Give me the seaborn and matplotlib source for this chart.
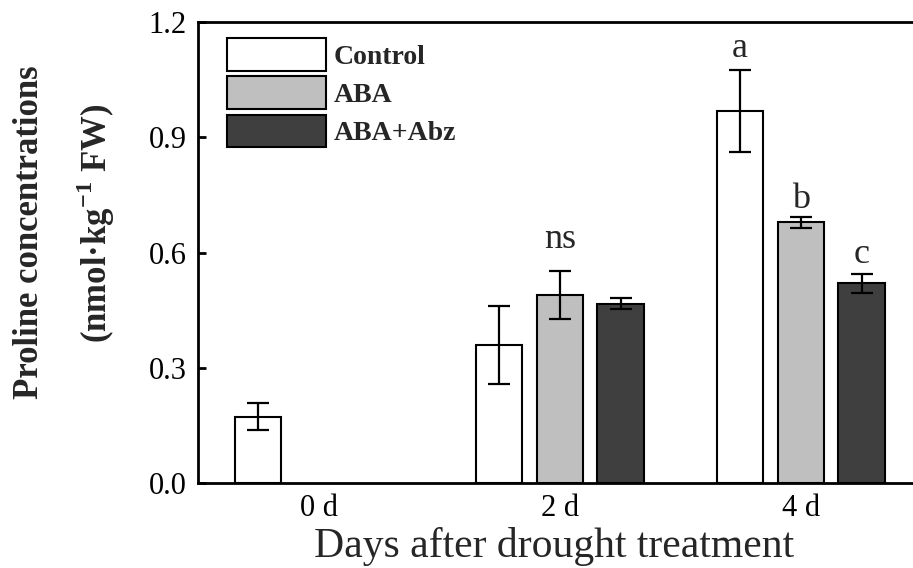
import numpy as np
import pandas as pd
import matplotlib
matplotlib.use("Agg")
import matplotlib.pyplot as plt
from matplotlib.patches import Patch
import seaborn as sns

# Proline content after drought treatment
days = ["0 d", "2 d", "4 d"]
treatments = ["Control", "ABA", "ABA+Abz"]
control_mean = [0.173, 0.360, 0.968]
control_err = [0.035, 0.101, 0.106]
aba_mean = [np.nan, 0.490, 0.679]
aba_err = [np.nan, 0.062, 0.014]
abz_mean = [np.nan, 0.467, 0.520]
abz_err = [np.nan, 0.014, 0.025]

# significance letters: text, day, treatment
sig_text = ["ns", "a", "b", "c"]
sig_day = ["2 d", "4 d", "4 d", "4 d"]
sig_treat = ["ABA", "Control", "ABA", "ABA+Abz"]
sig_offset_pt = [16.5, 9.5, 6.5, 7.5]

colors = ["#ffffff", "#bfbfbf", "#3f3f3f"]
y_ticks = [0.0, 0.3, 0.6, 0.9, 1.2]

rows = []
for t, means, errs in zip(treatments, [control_mean, aba_mean, abz_mean],
                          [control_err, aba_err, abz_err]):
    for d, m, e in zip(days, means, errs):
        rows.append({"day": d, "treatment": t, "value": m, "err": e})
df = pd.DataFrame(rows)

sns.set_theme(style="ticks")
plt.rcParams["font.family"] = ["Liberation Serif", "DejaVu Serif"]
plt.rcParams["mathtext.fontset"] = "custom"
plt.rcParams["mathtext.rm"] = "Liberation Serif"
plt.rcParams["mathtext.bf"] = "Liberation Serif:bold"

W, H = 913, 568
fig = plt.figure(figsize=(W / 100, H / 100), dpi=100)
ax = fig.add_axes([198 / W, 85 / H, 727 / W, 461 / H])

sns.barplot(data=df.dropna(subset=["value"]), x="day", y="value", hue="treatment",
            order=days, hue_order=treatments, palette=colors, width=0.756, gap=0.234,
            errorbar=None, edgecolor="black", linewidth=1.5, legend=False, ax=ax,
            saturation=1)

# error bars placed on the drawn bars
lookup = df.set_index(["day", "treatment"])
bar_pos = {}
for cont, t in zip(ax.containers, treatments):
    for bar in cont:
        xc = bar.get_x() + bar.get_width() / 2
        d = days[int(round(xc))]
        bar_pos[(d, t)] = xc
        row = lookup.loc[(d, t)]
        ax.errorbar(xc, row["value"], yerr=row["err"], fmt="none", ecolor="black",
                    elinewidth=1.6, capsize=8, capthick=1.6, zorder=5)

# significance letters
for txt, d, t, off in zip(sig_text, sig_day, sig_treat, sig_offset_pt):
    row = lookup.loc[(d, t)]
    ax.annotate(txt, (bar_pos[(d, t)], row["value"] + row["err"]),
                xytext=(0, off), textcoords="offset points",
                ha="center", va="baseline", fontsize=26)

ax.set_xlim(-0.502, 2.515)
ax.set_ylim(0, 1.2)
ax.set_yticks(y_ticks)
ax.set_yticklabels([f"{v:.1f}" for v in y_ticks])
ax.set_xlabel("")
ax.set_ylabel("")
for s in ax.spines.values():
    s.set_linewidth(2)
    s.set_color("black")
ax.tick_params(axis="y", direction="in", length=6, width=2, labelsize=22, pad=8,
               colors="black")
ax.tick_params(axis="x", length=0, labelsize=22, pad=8, colors="black")

fs = 20
fs_px = fs * 100 / 72
handles = [Patch(facecolor=c, edgecolor="black", linewidth=1.5) for c in colors]
ax.legend(handles, treatments, loc="upper left",
          bbox_to_anchor=((227 - 198) / 727, 1 - (38 - 22) / 461),
          borderpad=0, borderaxespad=0, frameon=False,
          handlelength=99 / fs_px, handleheight=40 / fs_px,
          labelspacing=5.5 / fs_px, handletextpad=8 / fs_px,
          prop={"weight": "bold", "size": fs})

fig.text(554 / W, 11 / H, "Days after drought treatment", ha="center",
         va="baseline", fontsize=30)
fig.text(30 / W, 1 - 232.5 / H, "Proline concentrations", rotation=90,
         ha="center", va="center", fontsize=25, fontweight="bold")
fig.text(96 / W, 1 - 223.5 / H, r"(nmol·kg$^{\mathbf{-1}}$ FW)", rotation=90,
         ha="center", va="center", fontsize=25, fontweight="bold")

fig.savefig("out.png", dpi=100)
